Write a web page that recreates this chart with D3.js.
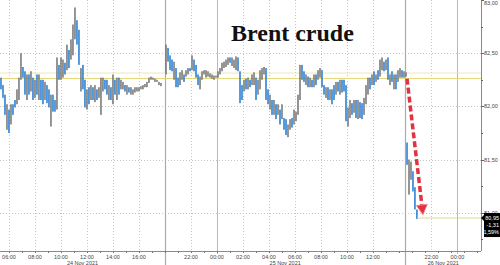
<!DOCTYPE html>
<html><head><meta charset="utf-8">
<script src="https://cdn.jsdelivr.net/npm/d3@7"></script>
<style>html,body{margin:0;padding:0;background:#fff;overflow:hidden}</style>
</head><body><svg id="c" width="500" height="265"></svg>
<script>
// ---- DATA ----
// time axis in "session hours" (hours from 06:00 24 Nov, compressed by the chart's session gaps)
const tickHours  = [0,2,4,6,8,10,14,16,18,20,22,24,26,28,32.5,34.5];
const tickLabels = ["06:00","08:00","10:00","12:00","14:00","16:00","22:00","00:00","02:00","04:00","06:00","08:00","10:00","12:00","22:00","00:00"];
const midnightHours = [16, 34.5];
const daySepHours = [12, 30.5];
const dateLabels = ["24 Nov 2021","25 Nov 2021","26 Nov 2021"];
const priceTicks = [83.0, 82.5, 82.0, 81.5, 81.0];
const priceTickLabels = ["83,00","82,50","82,00","81,50","81,00"];
const refLines = [82.313, 82.262];
const lastPrice = 80.95;
const lastInfo = ["80,95","-1,31","-1,59%"];
const title = "Brent crude";

// segment time spans
const seg1Span = [-0.615, 11.69];
const seg2Span = [12.08, 30.54];
const seg3Span = [30.62, 31.38];

// bar highs / lows / down-flag (1 = down bar, blue)
const hi1 = [82.27,82.20,82.11,82.02,81.97,82.02,82.02,82.06,82.16,82.27,
82.50,82.37,82.33,82.30,82.30,82.33,82.27,82.25,82.30,82.30,
82.25,82.25,82.23,82.20,82.16,82.11,82.11,82.06,82.46,82.39,
82.46,82.44,82.41,82.58,82.53,82.63,82.77,82.93,82.81,82.72,
82.36,82.39,82.25,82.16,82.18,82.20,82.18,82.20,82.16,82.18,
82.27,82.27,82.25,82.25,82.20,82.18,82.30,82.25,82.27,82.27,
82.25,82.23,82.20,82.20,82.18,82.18,82.16,82.18,82.18,82.18,
82.19,82.20,82.21,82.23,82.27,82.28,82.27,82.26,82.25,82.23,82.22];
const lo1 = [82.16,82.08,81.92,81.78,81.75,81.83,81.92,81.99,82.02,82.06,
82.25,82.27,82.11,82.06,82.11,82.14,82.06,82.08,82.11,82.06,
82.06,82.02,82.06,82.03,81.99,81.81,81.95,81.95,81.97,82.25,
82.25,82.27,82.30,82.34,82.36,82.44,82.48,82.63,82.58,82.39,
82.14,82.16,81.99,81.97,82.02,82.06,82.06,82.04,82.06,82.08,
81.92,82.14,82.16,82.11,82.06,82.06,82.02,82.11,82.06,82.11,
82.16,82.16,82.14,82.11,82.13,82.11,82.11,82.13,82.14,82.14,
82.16,82.16,82.18,82.18,82.22,82.25,82.25,82.23,82.23,82.20,82.19];
const dn1 = [1,1,1,0,1,0,1,1,0,0, 0,1,1,0,1,0,1,0,1,0, 1,1,0,1,1,0,1,1,0,1,
0,0,1,0,1,0,0,0,1,1, 0,1,1,0,1,0,1,0,1,0, 0,0,1,1,0,1,0,1,0,1,
0,0,1,0,1,0,0,0,0,0, 0,0,0,0,0,0,0,0,0,0,0];

const hi2 = [82.58,82.55,82.48,82.44,82.42,82.36,82.27,82.32,82.34,82.30,
82.34,82.36,82.36,82.48,82.44,82.39,82.30,82.28,82.33,82.34,
82.34,82.33,82.31,82.30,82.29,82.29,82.33,82.36,82.41,82.42,
82.44,82.46,82.46,82.46,82.44,82.47,82.46,82.33,82.20,82.25,
82.26,82.27,82.25,82.30,82.32,82.27,82.25,82.34,82.36,82.37,
82.36,82.16,82.11,82.06,82.06,82.02,82.02,81.97,82.02,81.89,
81.88,81.83,81.88,81.89,81.97,81.95,82.11,82.39,82.39,82.33,
82.30,82.28,82.27,82.25,82.30,82.30,82.34,82.36,82.34,82.20,
82.18,82.18,82.16,82.16,82.20,82.23,82.23,82.25,82.25,82.25,
82.20,81.99,82.06,82.03,82.06,82.06,82.06,82.04,82.03,82.08,
82.20,82.27,82.27,82.30,82.33,82.30,82.34,82.44,82.46,82.42,
82.44,82.46,82.30,82.33,82.30,82.30,82.34,82.36,82.34,82.33,82.32];
const lo2 = [82.30,82.42,82.34,82.33,82.25,82.18,82.18,82.20,82.25,82.23,
82.28,82.30,82.33,82.34,82.33,82.27,82.20,82.16,82.25,82.30,
82.27,82.28,82.27,82.26,82.25,82.27,82.27,82.30,82.33,82.36,
82.37,82.39,82.41,82.38,82.36,82.34,82.33,82.03,82.06,82.14,
82.16,82.16,82.18,82.20,82.20,82.06,82.11,82.16,82.25,82.30,
82.06,82.02,81.97,81.92,81.92,81.88,81.92,81.83,81.88,81.78,
81.73,81.71,81.78,81.80,81.83,81.86,81.92,82.06,82.25,82.23,
82.20,82.18,82.18,82.18,82.18,82.20,82.25,82.27,82.18,82.11,
82.08,82.06,82.06,82.02,82.06,82.11,82.14,82.11,82.13,82.14,
81.86,81.81,81.89,81.92,81.94,81.89,81.88,81.89,81.88,81.92,
82.02,82.11,82.16,82.20,82.20,82.23,82.25,82.28,82.34,82.33,
82.34,82.25,82.20,82.23,82.16,82.16,82.23,82.27,82.27,82.27,82.28];
const dn2 = [0,1,1,1,0,1,1,0,0,1, 0,0,1,0,1,1,1,0,0,0, 0,0,0,0,0,0,0,0,0,0,
0,0,1,0,0,0,1,1,1,0, 1,0,1,0,0,1,0,0,0,0, 1,1,0,1,0,1,0,1,0,1,
1,0,0,1,0,0,0,0,1,1, 0,1,0,1,0,1,0,0,1,1, 0,1,0,1,1,0,1,0,1,1,
1,0,0,1,0,1,0,1,1,0, 0,0,1,0,1,0,1,0,0,1, 0,1,0,1,0,1,0,0,1,0,0];

const hi3 = [81.66,81.50,81.48,81.39,81.24,81.03];
const lo3 = [81.45,81.17,81.31,81.20,81.03,80.94];
const dn3 = [1,0,0,1,1,1];

// arrow annotation: [hour, price] start and end
const arrowFrom = [30.62, 82.26];
const arrowTo   = [31.85, 80.98];

// ---- CHART ----
const svg = d3.select("#c");
const plotR = 481, plotB = 251;
const x = d3.scaleLinear().domain([-0.69, 36.31]).range([0, plotR]);
const y = d3.scaleLinear().domain([80.64, 83.0]).range([plotB, 0]);
const px = v => Math.round(x(v)) + 0.5;
const py = v => Math.round(y(v)) + 0.5;

svg.append("rect").attr("width",500).attr("height",265).attr("fill","#fff");

// dotted grid
const grid = svg.append("g").attr("stroke","#c4c4c4").attr("stroke-dasharray","1,2").attr("stroke-width",1);
tickHours.filter(h => !midnightHours.includes(h)).forEach(h =>
  grid.append("line").attr("x1",px(h)).attr("x2",px(h)).attr("y1",0).attr("y2",plotB));
priceTicks.slice(1).forEach(v =>
  grid.append("line").attr("x1",0).attr("x2",plotR).attr("y1",py(v)).attr("y2",py(v)));

// solid vertical lines
midnightHours.forEach(h => svg.append("line").attr("x1",px(h)).attr("x2",px(h))
  .attr("y1",0).attr("y2",plotB+3).attr("stroke","#b8b8b8").attr("stroke-width",1));
daySepHours.forEach(h => svg.append("line").attr("x1",px(h)).attr("x2",px(h))
  .attr("y1",0).attr("y2",265).attr("stroke","#aaaaaa").attr("stroke-width",1.2));

// reference lines
svg.append("line").attr("x1",0).attr("x2",plotR).attr("y1",y(refLines[0])).attr("y2",y(refLines[0]))
  .attr("stroke","#efe6b4").attr("stroke-width",1);
svg.append("line").attr("x1",0).attr("x2",plotR).attr("y1",y(refLines[1])).attr("y2",y(refLines[1]))
  .attr("stroke","#e6d777").attr("stroke-width",1);

// bars
function drawSeg(span, hi, lo, dn) {
  const n = hi.length;
  const t = d3.scaleLinear().domain([0, n-1]).range(span);
  const g = svg.append("g");
  hi.forEach((h, i) => {
    g.append("rect")
      .attr("x", x(t(i)) - 0.8).attr("width", 1.6)
      .attr("y", y(h)).attr("height", Math.max(1, y(lo[i]) - y(h)))
      .attr("fill", dn[i] ? "#2f82d3" : "#7c7c7c");
  });
}
drawSeg(seg1Span, hi1, lo1, dn1);
drawSeg(seg2Span, hi2, lo2, dn2);
drawSeg(seg3Span, hi3, lo3, dn3);

// last price line
svg.append("line").attr("x1",x(seg3Span[1])).attr("x2",plotR).attr("y1",y(lastPrice)).attr("y2",y(lastPrice))
  .attr("stroke","#d6dc94").attr("stroke-width",1);

// red dashed arrow
{
  const x0 = x(arrowFrom[0]), y0 = y(arrowFrom[1]);
  const x1 = x(arrowTo[0]), y1 = y(arrowTo[1]);
  const ang = Math.atan2(y1-y0, x1-x0);
  const L = 10, Wd = 5.5;
  const bx = x1 - L*Math.cos(ang), by = y1 - L*Math.sin(ang);
  svg.append("line").attr("x1",x0).attr("y1",y0).attr("x2",bx).attr("y2",by)
    .attr("stroke","#e2323f").attr("stroke-width",3.5).attr("stroke-dasharray","6,3");
  const nx = -Math.sin(ang), ny = Math.cos(ang);
  svg.append("path").attr("d",`M${x1},${y1}L${bx+nx*Wd},${by+ny*Wd}L${bx-nx*Wd},${by-ny*Wd}Z`)
    .attr("fill","#e2323f").attr("stroke","#f08a90").attr("stroke-width",0.8);
}

// title
svg.append("text").attr("x",231).attr("y",41).text(title)
  .attr("font-family","'Liberation Serif', 'DejaVu Serif', serif").attr("font-weight","bold")
  .attr("font-size",24).attr("fill","#111");

// right axis
svg.append("line").attr("x1",plotR+0.5).attr("x2",plotR+0.5).attr("y1",0).attr("y2",plotB)
  .attr("stroke","#8a8a8a");
d3.range(0, 10).map(i => 83 - i*0.25).filter(v => v > 80.64).forEach(v => {
  const major = Math.abs((v*2) - Math.round(v*2)) < 1e-6;
  svg.append("line").attr("x1",plotR).attr("x2",plotR + (major?3:2)).attr("y1",py(v)).attr("y2",py(v))
    .attr("stroke","#666");
});
priceTicks.forEach((v,i) => svg.append("text").attr("x",484).attr("y",Math.max(y(v)+2, 5))
  .text(priceTickLabels[i]).attr("font-family","'Liberation Sans', Arial, sans-serif")
  .attr("font-size",5.5).attr("fill","#444"));

// bottom axis
svg.append("line").attr("x1",0).attr("x2",plotR).attr("y1",plotB+0.5).attr("y2",plotB+0.5).attr("stroke","#8a8a8a");
d3.range(0, 37).forEach(h => svg.append("line").attr("x1",px(h)).attr("x2",px(h))
  .attr("y1",plotB).attr("y2",plotB+2).attr("stroke","#777"));
tickHours.forEach((h,i) => svg.append("text").attr("x",x(h)).attr("y",259)
  .attr("text-anchor","middle").text(tickLabels[i])
  .attr("font-family","'Liberation Sans', Arial, sans-serif").attr("font-size",5.5).attr("fill","#444"));
const bounds = [x.domain()[0], ...daySepHours, x.domain()[1]];
dateLabels.forEach((d,i) => svg.append("text").attr("x",(x(bounds[i])+x(bounds[i+1]))/2).attr("y",264.5)
  .attr("text-anchor","middle").text(d)
  .attr("font-family","'Liberation Sans', Arial, sans-serif").attr("font-size",5.5).attr("fill","#444"));

// last price box
{
  const yy = y(lastPrice);
  svg.append("path").attr("d",`M${plotR},${yy}L${plotR+3},${yy-3}L${plotR+3},${yy+3}Z`).attr("fill","#000");
  svg.append("rect").attr("x",plotR+3).attr("y",yy-5).attr("width",500-plotR-3).attr("height",24).attr("fill","#000");
  lastInfo.forEach((s,i) => svg.append("text").attr("x",499).attr("y",yy+1.5+i*7.2)
    .attr("text-anchor","end").text(s)
    .attr("font-family","'Liberation Sans', Arial, sans-serif").attr("font-size",5.5).attr("fill","#fff"));
}
</script>
</body></html>
